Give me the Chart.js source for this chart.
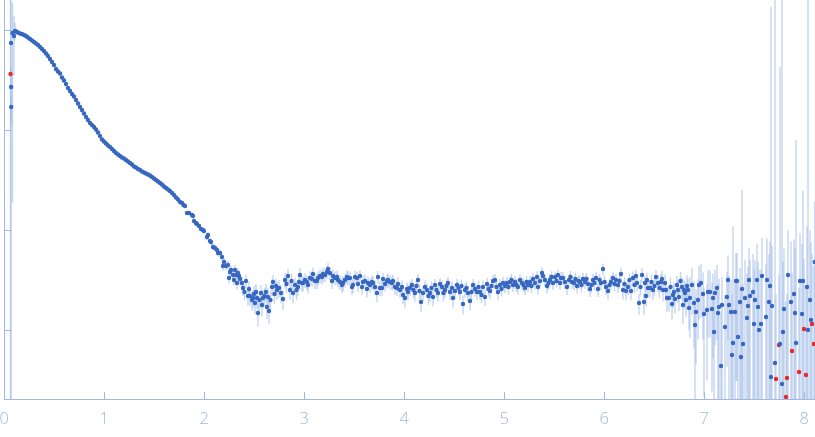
<!DOCTYPE html>
<html><head><meta charset="utf-8">
<script src="https://cdn.jsdelivr.net/npm/chart.js@4.4.1/dist/chart.umd.min.js"></script>
<style>html,body{margin:0;padding:0;background:#fff;overflow:hidden}</style>
</head><body>
<canvas id="c" width="815" height="437"></canvas>
<script>
// x: scattering vector q; y: log10 intensity; err: relative error sigma/I

// --- Guinier / decay part ---
const qCurve = [
0.067,0.068,0.069,0.082,0.097,0.107,0.117,0.137,0.157,0.177,
0.197,0.217,0.237,0.257,0.277,0.297,0.317,0.337,0.357,0.377,
0.397,0.417,0.437,0.457,0.477,0.497,0.517,0.537,0.557,0.577,
0.597,0.617,0.637,0.657,0.677,0.697,0.717,0.737,0.757,0.777,
0.797,0.817,0.837,0.857,0.877,0.897,0.917,0.937,0.957,0.977,
0.997,1.017,1.037,1.057,1.077,1.097,1.117,1.137,1.157,1.177,
1.197,1.217,1.237,1.257,1.277,1.297,1.317,1.337,1.357,1.377,
1.397,1.417,1.437,1.457,1.477,1.497,1.517,1.537,1.557,1.577,
1.597,1.617,1.637,1.657,1.677,1.697,1.717,1.737,1.757,1.777,
1.792,1.807,1.827,1.847,1.877,1.887,1.897,1.917,1.927,1.947,
1.967,1.987,1.997,2.027,2.037,2.057,2.067,2.087,2.107,2.127,
2.137,2.157,2.177,2.187,2.217,2.237,2.247,2.267,2.287,2.307
];
const logICurve = [
2.865,2.425,2.225,2.965,2.935,2.985,2.980,2.970,2.960,2.955,
2.945,2.935,2.920,2.905,2.890,2.875,2.860,2.845,2.825,2.805,
2.785,2.760,2.735,2.705,2.675,2.645,2.605,2.580,2.560,2.520,
2.490,2.455,2.415,2.385,2.355,2.330,2.295,2.260,2.225,2.195,
2.160,2.125,2.095,2.065,2.045,2.025,2.000,1.970,1.935,1.900,
1.880,1.860,1.840,1.825,1.805,1.785,1.765,1.750,1.735,1.720,
1.710,1.695,1.680,1.665,1.650,1.630,1.620,1.605,1.595,1.580,
1.570,1.560,1.550,1.540,1.525,1.510,1.495,1.480,1.465,1.450,
1.430,1.415,1.400,1.385,1.365,1.345,1.320,1.300,1.275,1.265,
1.245,1.235,1.165,1.165,1.145,1.135,1.085,1.065,1.055,1.035,
1.005,0.995,0.985,0.925,0.945,0.885,0.875,0.825,0.815,0.795,
0.765,0.765,0.725,0.635,0.635,0.645,0.515,0.595,0.545,0.595
];
const errCurve = [
2.0,0.6,0.3,0.98,0.6,0.2,0.08,0.05,0.03,0.02,
0.02,0.02,0.02,0.02,0.02,0.02,0.02,0.02,0.02,0.02,
0.02,0.02,0.02,0.02,0.02,0.02,0.02,0.02,0.02,0.02,
0.02,0.02,0.02,0.02,0.02,0.02,0.02,0.02,0.02,0.02,
0.02,0.02,0.02,0.02,0.02,0.02,0.02,0.02,0.02,0.02,
0.02,0.02,0.02,0.02,0.02,0.02,0.02,0.02,0.02,0.02,
0.02,0.02,0.02,0.02,0.02,0.02,0.02,0.02,0.02,0.02,
0.02,0.02,0.02,0.02,0.02,0.02,0.02,0.02,0.02,0.02,
0.025,0.025,0.025,0.025,0.025,0.025,0.025,0.025,0.025,0.025,
0.03,0.03,0.035,0.035,0.04,0.04,0.04,0.045,0.045,0.05,
0.05,0.05,0.055,0.06,0.06,0.065,0.065,0.07,0.07,0.075,
0.08,0.08,0.09,0.1,0.1,0.1,0.12,0.11,0.12,0.12
];

// --- plateau part ---
const qPlateau = [
2.197,2.257,2.297,2.317,2.347,2.327,2.337,2.357,2.377,2.387,
2.417,2.437,2.457,2.477,2.497,2.402,2.447,2.487,2.517,2.552,
2.577,2.602,2.637,2.662,2.702,2.717,2.507,2.527,2.537,2.567,
2.587,2.617,2.627,2.647,2.677,2.687,2.727,2.747,2.767,2.787,
2.807,2.822,2.837,2.857,2.872,2.887,2.907,2.922,2.937,2.947,
2.957,2.977,2.987,3.007,3.027,3.037,3.057,3.077,3.087,3.107,
3.127,3.137,3.157,3.177,3.187,3.207,3.227,3.237,3.257,3.277,
3.287,3.307,3.327,3.337,3.357,3.377,3.387,3.407,3.427,3.437,
3.457,3.477,3.487,3.507,3.527,3.537,3.557,3.577,3.587,3.607,
3.627,3.637,3.657,3.677,3.687,3.707,3.727,3.737,3.757,3.777,
3.787,3.807,3.827,3.837,3.857,3.877,3.887,3.907,3.927,3.937,
3.957,3.977,3.987,4.007,4.027,4.037,4.057,4.077,4.092,4.107,
4.122,4.137,4.152,4.167,4.187,4.207,4.227,4.242,4.257,4.272,
4.287,4.307,4.322,4.337,4.357,4.377,4.392,4.407,4.422,4.437,
4.457,4.477,4.487,4.507,4.527,4.542,4.557,4.572,4.587,4.607,
4.622,4.637,4.657,4.672,4.687,4.707,4.727,4.742,4.757,4.772,
4.787,4.807,4.827,4.842,4.857,4.872,4.887,4.907,4.922,4.937,
4.957,4.972,4.987,5.007,5.027,5.042,5.057,5.072,5.087,5.107,
5.122,5.137,5.157,5.177,5.192,5.207,5.222,5.237,5.257,5.272,
5.287,5.307,5.327,5.337,5.357,5.377,5.387,5.407,5.427,5.442,
5.457,5.472,5.487,5.507,5.522,5.537,5.557,5.567,5.587,5.607,
5.627,5.647,5.662,5.677,5.697,5.712,5.727,5.742,5.757,5.772,
5.787,5.807,5.822,5.837,5.857,5.872,5.887,5.902,5.917,5.937,
5.952,5.967,5.987,6.002,6.017,6.037,6.052,6.067,6.087,6.102,
6.117,6.137,6.152,6.167,6.187,6.202,6.217,6.237,6.252,6.267,
6.287,6.302,6.317,6.327,6.347,6.362,6.377,6.397,6.407,6.417,
6.427,6.437,6.457,6.472,6.487,6.502,6.517,6.537,6.552,6.567,
6.577,6.587,6.607,6.617,6.627,6.647,6.662,6.677,6.687,6.697,
6.707,6.727,6.737,6.747,6.762,6.777,6.787,6.797,6.807,6.817,
6.827,6.837,6.847
];
const logIPlateau = [
0.675,0.575,0.495,0.545,0.535,0.465,0.565,0.505,0.465,0.415,
0.485,0.335,0.335,0.295,0.355,0.375,0.405,0.315,0.375,0.295,
0.245,0.335,0.325,0.295,0.355,0.435,0.265,0.315,0.165,0.365,
0.315,0.375,0.225,0.185,0.425,0.475,0.395,0.415,0.365,0.305,
0.495,0.455,0.535,0.395,0.485,0.365,0.445,0.395,0.425,0.475,
0.545,0.465,0.465,0.495,0.475,0.445,0.515,0.505,0.555,0.485,
0.485,0.515,0.535,0.525,0.555,0.545,0.575,0.605,0.565,0.485,
0.535,0.515,0.525,0.495,0.475,0.445,0.465,0.495,0.525,0.515,
0.515,0.425,0.445,0.525,0.515,0.455,0.535,0.425,0.475,0.485,
0.405,0.465,0.445,0.475,0.465,0.425,0.365,0.525,0.415,0.415,
0.505,0.455,0.485,0.495,0.475,0.465,0.485,0.425,0.415,0.455,
0.395,0.425,0.345,0.315,0.405,0.375,0.415,0.445,0.395,0.365,
0.435,0.495,0.385,0.275,0.365,0.425,0.395,0.335,0.365,0.415,
0.325,0.445,0.395,0.365,0.455,0.425,0.365,0.395,0.435,0.465,
0.375,0.415,0.315,0.385,0.445,0.415,0.375,0.435,0.255,0.395,
0.415,0.365,0.285,0.375,0.445,0.405,0.375,0.425,0.375,0.345,
0.425,0.325,0.455,0.405,0.385,0.435,0.485,0.495,0.425,0.375,
0.445,0.405,0.465,0.435,0.465,0.425,0.475,0.495,0.445,0.475,
0.445,0.425,0.495,0.465,0.445,0.415,0.475,0.445,0.475,0.435,
0.505,0.465,0.525,0.425,0.485,0.565,0.535,0.495,0.435,0.465,
0.495,0.525,0.465,0.525,0.485,0.545,0.465,0.515,0.515,0.475,
0.425,0.495,0.525,0.475,0.465,0.505,0.435,0.485,0.475,0.445,
0.505,0.475,0.505,0.455,0.405,0.445,0.495,0.465,0.515,0.405,
0.495,0.465,0.605,0.475,0.425,0.385,0.445,0.475,0.515,0.455,
0.495,0.445,0.485,0.555,0.395,0.455,0.385,0.425,0.495,0.385,
0.515,0.445,0.535,0.465,0.265,0.425,0.545,0.275,0.465,0.335,
0.495,0.415,0.415,0.475,0.395,0.435,0.525,0.465,0.415,0.475,
0.505,0.395,0.465,0.395,0.315,0.315,0.425,0.255,0.345,0.375,
0.305,0.445,0.395,0.325,0.485,0.425,0.245,0.395,0.365,0.295,
0.435,0.395,0.215
];
const errPlateau = [
0.09,0.11,0.12,0.12,0.13,0.14,0.13,0.15,0.16,0.17,
0.16,0.2,0.2,0.22,0.2,0.18,0.19,0.21,0.2,0.22,
0.23,0.21,0.22,0.22,0.2,0.19,0.23,0.21,0.27,0.2,
0.21,0.2,0.24,0.25,0.19,0.18,0.2,0.2,0.21,0.22,
0.18,0.19,0.17,0.2,0.19,0.21,0.19,0.2,0.19,0.18,
0.17,0.18,0.18,0.17,0.17,0.18,0.17,0.17,0.16,0.17,
0.17,0.16,0.16,0.16,0.16,0.16,0.15,0.15,0.15,0.17,
0.16,0.16,0.16,0.16,0.17,0.17,0.17,0.16,0.16,0.16,
0.16,0.17,0.17,0.16,0.16,0.17,0.15,0.17,0.16,0.16,
0.18,0.16,0.17,0.16,0.16,0.17,0.19,0.15,0.17,0.17,
0.15,0.16,0.16,0.16,0.16,0.16,0.16,0.17,0.17,0.16,
0.17,0.17,0.19,0.2,0.17,0.18,0.17,0.15,0.17,0.18,
0.16,0.15,0.17,0.21,0.18,0.16,0.17,0.19,0.18,0.17,
0.19,0.15,0.17,0.18,0.15,0.16,0.18,0.17,0.16,0.15,
0.17,0.16,0.19,0.17,0.15,0.16,0.17,0.16,0.21,0.17,
0.16,0.18,0.2,0.17,0.15,0.16,0.17,0.16,0.17,0.18,
0.16,0.19,0.15,0.16,0.17,0.16,0.15,0.15,0.16,0.17,
0.15,0.16,0.15,0.15,0.15,0.16,0.15,0.15,0.15,0.15,
0.15,0.16,0.14,0.15,0.15,0.16,0.15,0.15,0.15,0.15,
0.14,0.15,0.14,0.16,0.14,0.13,0.14,0.14,0.16,0.15,
0.15,0.14,0.15,0.14,0.14,0.14,0.15,0.15,0.15,0.15,
0.17,0.15,0.15,0.15,0.16,0.15,0.16,0.15,0.15,0.16,
0.15,0.15,0.15,0.16,0.17,0.16,0.15,0.16,0.15,0.17,
0.15,0.16,0.13,0.16,0.17,0.18,0.16,0.16,0.15,0.16,
0.16,0.17,0.16,0.15,0.19,0.17,0.19,0.18,0.16,0.19,
0.16,0.17,0.16,0.18,0.24,0.18,0.17,0.25,0.18,0.22,
0.18,0.2,0.2,0.19,0.21,0.2,0.18,0.2,0.21,0.2,
0.2,0.23,0.21,0.23,0.27,0.27,0.24,0.3,0.26,0.25,
0.28,0.24,0.26,0.28,0.24,0.26,0.35,0.28,0.3,0.32,
0.28,0.3,0.4
];

// --- noisy tail ---
const qTail = [
6.857,6.877,6.897,6.907,6.917,
6.937,6.947,6.967,6.987,6.997,7.027,7.037,7.057,7.077,7.087,
7.097,7.107,7.127,7.137,7.147,7.167,7.177,7.207,7.227,7.237,
7.247,7.267,7.277,7.287,7.307,7.317,7.327,7.337,7.357,7.367,
7.377,7.387,7.407,7.427,7.437,7.447,7.457,7.487,7.497,7.507,
7.527,7.537,7.547,7.567,7.577,7.617,7.627,7.647,7.657,7.667,
7.677,7.707,7.757,7.777,7.787,7.797,7.837,7.867,7.897,7.907,
7.917,7.957,7.977,7.987,8.027,8.037,8.057,8.067,8.105
];
const logITail = [
0.315,0.445,0.265,0.045,0.175,
0.295,0.445,0.465,0.355,0.155,0.195,0.375,0.375,0.205,0.315,
-0.025,0.365,0.415,0.165,0.225,-0.365,0.245,0.025,0.325,0.495,
0.245,0.175,-0.255,-0.135,0.175,0.485,0.485,-0.075,0.275,-0.275,
0.405,-0.145,0.315,0.115,0.235,0.495,0.335,0.375,0.055,0.295,
0.495,0.225,-0.005,0.055,0.535,0.125,0.495,0.275,0.435,-0.475,
0.235,-0.335,-0.145,-0.545,-0.025,0.205,0.545,0.275,0.355,0.165,
-0.135,0.485,0.155,0.485,0.425,-0.005,0.295,0.095,0.675
];
const errTail = [
0.6,0.5,0.65,0.9,0.7,
0.6,0.55,0.55,0.65,0.85,0.8,0.65,0.65,0.85,0.75,
1.2,0.7,0.7,0.95,0.9,2.5,0.9,1.1,0.8,0.75,
0.95,1.1,3.0,13.5,1.1,0.9,0.9,2.5,1.2,3.5,
8.8,3.0,1.4,1.8,1.5,1.1,1.3,1.4,2.5,1.5,
1.3,1.8,3.0,2.5,1.4,2.4,1.6,2.0,1.8,5000,
3.0,5000,590,8000,4.0,3.0,1.8,3.0,2.5,3.5,
106,2.0,4.0,7.0,3.0,2500,4.0,5.0,3.0
];

// --- points flagged in red ---
const qOut = [0.062,7.717,7.747,7.817,7.827,7.877,7.947,7.997,8.017,8.077,8.097];
const logIOut = [2.555,-0.495,-0.155,-0.675,-0.485,-0.215,-0.425,0.005,-0.455,0.055,-0.145];
const errOut = [5,6,4,8,6,5,6,4,7,4,5];

const xTicks = [0,1,2,3,4,5,6,7,8];
const yTicks = [0,1,2,3];

const AXIS = '#a3b8df';
const qAll = qCurve.concat(qPlateau, qTail);
const logIAll = logICurve.concat(logIPlateau, logITail);
const errAll = errCurve.concat(errPlateau, errTail);
const toPts = (xs, ys) => xs.map((v, i) => ({x: v, y: ys[i]}));

const errorBars = {
  id: 'errorBars',
  beforeDatasetsDraw(chart) {
    const {ctx, chartArea: a, scales: {x, y}} = chart;
    ctx.save();
    ctx.beginPath(); ctx.rect(a.left, a.top, a.right - a.left, a.bottom - a.top); ctx.clip();
    ctx.strokeStyle = 'rgba(160,188,230,0.62)';
    ctx.lineWidth = 1.4;
    const draw = (xs, ys, rs) => {
      for (let i = 0; i < xs.length; i++) {
        const px = x.getPixelForValue(xs[i]);
        const top = y.getPixelForValue(ys[i] + Math.log10(1 + rs[i]));
        const bot = rs[i] < 1 ? y.getPixelForValue(ys[i] + Math.log10(1 - rs[i])) : a.bottom;
        ctx.beginPath();
        ctx.moveTo(px, Math.max(top, a.top));
        ctx.lineTo(px, Math.min(bot, a.bottom));
        ctx.stroke();
      }
    };
    draw(qAll, logIAll, errAll);
    draw(qOut, logIOut, errOut);
    ctx.restore();
  },
  afterDraw(chart) {
    const {ctx, chartArea: a, scales: {x, y}} = chart;
    ctx.save();
    ctx.strokeStyle = AXIS; ctx.lineWidth = 1;
    xTicks.forEach(v => {
      const px = Math.round(x.getPixelForValue(v)) + 0.5;
      ctx.beginPath(); ctx.moveTo(px, a.bottom); ctx.lineTo(px, a.bottom - 7); ctx.stroke();
    });
    yTicks.forEach(v => {
      const py = Math.round(y.getPixelForValue(v)) + 0.5;
      ctx.beginPath(); ctx.moveTo(a.left, py); ctx.lineTo(a.left + 7, py); ctx.stroke();
    });
    ctx.restore();
  }
};

new Chart(document.getElementById('c'), {
  type: 'scatter',
  data: {
    datasets: [
      {data: toPts(qAll, logIAll), backgroundColor: '#3767c0', borderWidth: 0, pointRadius: 2.2, pointHoverRadius: 2.2},
      {data: toPts(qOut, logIOut), backgroundColor: '#e8282b', borderWidth: 0, pointRadius: 2.2, pointHoverRadius: 2.2}
    ]
  },
  options: {
    responsive: false,
    animation: false,
    events: [],
    layout: {padding: 0, autoPadding: false},
    plugins: {legend: {display: false}, tooltip: {enabled: false}},
    scales: {
      x: {
        type: 'linear', min: 0, max: 8.107,
        afterBuildTicks: s => { s.ticks = xTicks.map(v => ({value: v})); },
        afterFit: s => { s.height = 38; s.paddingLeft = 0; s.paddingRight = 0; },
        grid: {display: false, drawTicks: false},
        border: {display: true, color: AXIS, width: 1},
        ticks: {color: AXIS, padding: 10, font: {family: 'Open Sans', size: 16.5, weight: '300'}, maxRotation: 0}
      },
      y: {
        type: 'linear', min: -0.695, max: 3.295,
        afterBuildTicks: s => { s.ticks = yTicks.map(v => ({value: v})); },
        afterFit: s => { s.width = 4.3; },
        grid: {display: false, drawTicks: false},
        border: {display: true, color: AXIS, width: 1},
        ticks: {display: false}
      }
    }
  },
  plugins: [errorBars]
});
</script>
</body></html>
